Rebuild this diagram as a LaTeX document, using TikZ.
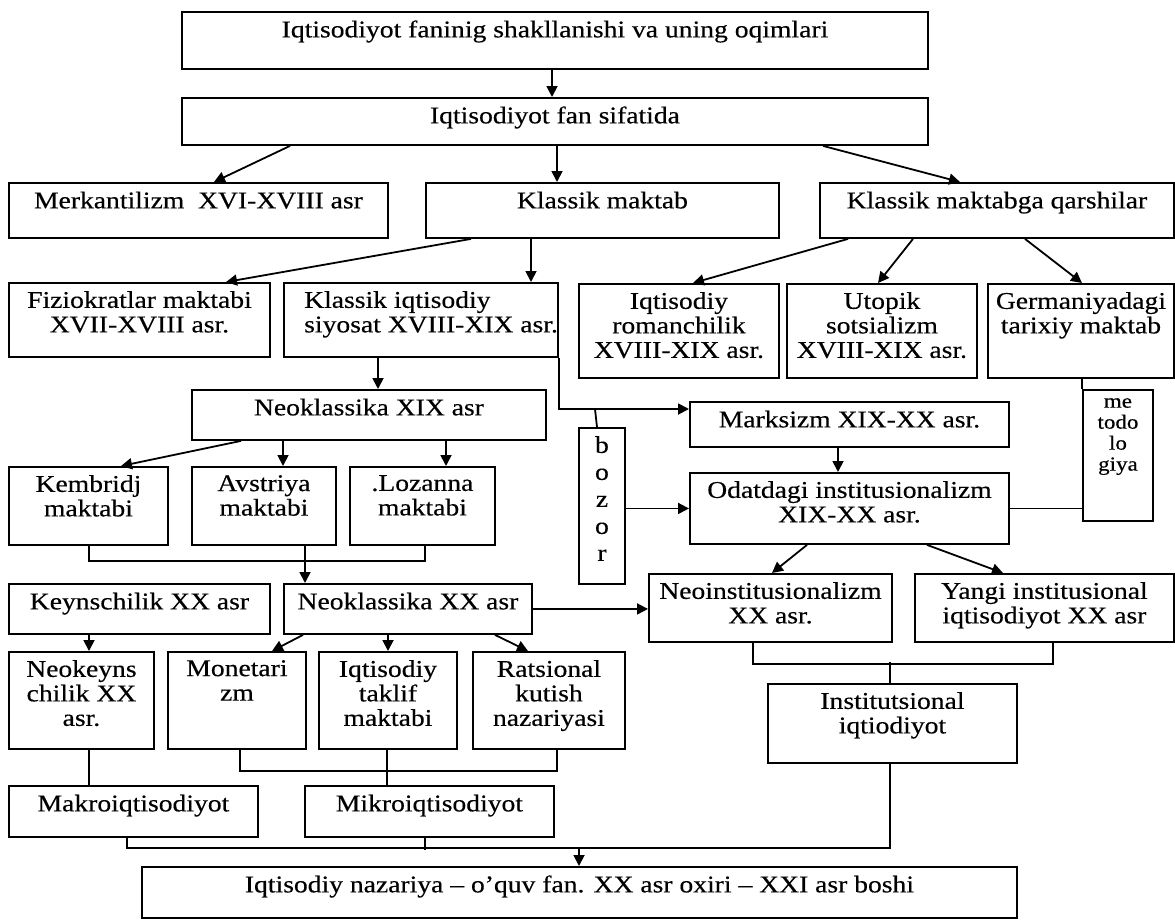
\documentclass[tikz,border=0pt]{standalone}
\usepackage{fontspec}
\setmainfont{Liberation Serif}[FakeStretch=1.15,FakeBold=0.4]
\usetikzlibrary{arrows.meta}
\newcommand\bxx[5]{\node[box, anchor=north west, minimum width={(#4-#2)*1pt}, minimum height={(#5-#3)*1pt}] (#1) at (#2,#3) {};}
\newcommand\tx[3][]{\node[txt,#1] at ([yshift=-9pt]#2.north) {#3};}
\tikzset{
 box/.style={draw, line width=1.9pt, inner sep=0pt},
 txt/.style={anchor=north, inner sep=0pt, align=center, font=\fontsize{24}{24.5}\selectfont, execute at begin node=\strut},
 arr/.style={line width=1.8pt, -{Triangle[length=11pt,width=11pt]}},
 ln/.style={line width=1.8pt},
}
\begin{document}
\begin{tikzpicture}[x=1pt,y=-1pt]
\path[fill=white] (0,0) rectangle (1175,919);
\useasboundingbox (0,0) rectangle (1175,919);
% boxes
\bxx{t1}{181}{11}{927}{68}
\bxx{t2}{181}{97}{927}{144}
\bxx{merk}{8}{182}{387}{237}
\bxx{klas}{425}{182}{778}{237}
\bxx{qars}{819}{182}{1173}{237}
\bxx{fizio}{8}{282}{269}{356}
\bxx{kisiy}{283}{282}{557}{356}
\bxx{roman}{578}{283}{778}{377}
\bxx{utop}{786}{283}{976}{377}
\bxx{germ}{987}{283}{1173}{377}
\bxx{neo19}{191}{389}{545}{439}
\bxx{kemb}{8}{466}{167}{544}
\bxx{avst}{191}{466}{335}{544}
\bxx{loz}{349}{466}{494}{544}
\bxx{marks}{689}{401}{1008}{446}
\bxx{bozor}{578}{427}{624}{583}
\bxx{metod}{1082}{389}{1152}{520}
\bxx{odat}{689}{472}{1008}{543}
\bxx{keyn}{8}{583}{269}{633}
\bxx{neo20}{283}{583}{531}{633}
\bxx{neoinst}{648}{573}{891}{641}
\bxx{yangi}{914}{573}{1173}{641}
\bxx{nkeyn}{8}{651}{153}{748}
\bxx{monet}{167}{651}{305}{748}
\bxx{taklif}{318}{651}{456}{748}
\bxx{rats}{472}{651}{624}{748}
\bxx{inst}{767}{683}{1016}{762}
\bxx{makro}{8}{785}{257}{836}
\bxx{mikro}{304}{785}{553}{836}
\bxx{final}{141}{866}{1016}{917}
% texts
\tx{t1}{Iqtisodiyot faninig shakllanishi va uning oqimlari}
\tx{t2}{Iqtisodiyot fan sifatida}
\tx{merk}{Merkantilizm~ XVI-XVIII asr}
\tx{klas}{Klassik maktab}
\tx{qars}{Klassik maktabga qarshilar}
\tx{fizio}{Fiziokratlar maktabi\\XVII-XVIII asr.}
\node[txt, anchor=north west, align=left] at ([xshift=21pt,yshift=-9pt]kisiy.north west) {Klassik iqtisodiy\\siyosat XVIII-XIX asr.};
\tx{roman}{Iqtisodiy\\romanchilik\\XVIII-XIX asr.}
\tx{utop}{Utopik\\sotsializm\\XVIII-XIX asr.}
\tx{germ}{Germaniyadagi\\tarixiy maktab}
\tx{neo19}{Neoklassika XIX asr}
\tx{kemb}{Kembridj\\maktabi}
\tx{avst}{Avstriya\\maktabi}
\tx{loz}{.Lozanna\\maktabi}
\tx{marks}{Marksizm XIX-XX asr.}
\tx[font=\fontsize{24}{27}\selectfont]{bozor}{b\\o\\z\\o\\r}
\tx[font=\fontsize{20}{21}\selectfont]{metod}{me\\todo\\lo\\giya}
\tx{odat}{Odatdagi institusionalizm\\XIX-XX asr.}
\tx{keyn}{Keynschilik XX asr}
\tx{neo20}{Neoklassika XX asr}
\tx{neoinst}{Neoinstitusionalizm\\XX asr.}
\tx{yangi}{Yangi institusional\\iqtisodiyot XX asr}
\tx{nkeyn}{Neokeyns\\chilik XX\\asr.}
\tx{monet}{Monetari\\zm}
\tx{taklif}{Iqtisodiy\\taklif\\maktabi}
\tx{rats}{Ratsional\\kutish\\nazariyasi}
\tx{inst}{Institutsional\\iqtiodiyot}
\tx{makro}{Makroiqtisodiyot}
\tx{mikro}{Mikroiqtisodiyot}
\tx{final}{Iqtisodiy nazariya – o’quv fan. XX asr oxiri – XXI asr boshi}
% connectors
\draw[arr] ([xshift=371pt]t1.south west) -- ([xshift=371pt]t2.north west);
\draw[arr] ([xshift=109pt]t2.south west) -- ([xshift=206pt]merk.north west);
\draw[arr] ([xshift=376pt]t2.south west) -- ([xshift=132pt]klas.north west);
\draw[arr] ([xshift=642pt]t2.south west) -- ([xshift=141pt]qars.north west);
\draw[arr] ([xshift=46pt]klas.south west) -- ([xshift=218pt]fizio.north west);
\draw[arr] ([xshift=106pt]klas.south west) -- ([xshift=248pt]kisiy.north west);
\draw[arr] ([xshift=29pt]qars.south west) -- ([xshift=115pt]roman.north west);
\draw[arr] ([xshift=94pt]qars.south west) -- ([xshift=92pt]utop.north west);
\draw[arr] ([xshift=206pt]qars.south west) -- ([xshift=95pt]germ.north west);
\draw[arr] ([xshift=95pt]kisiy.south west) -- ([xshift=187pt]neo19.north west);
\draw[arr] (kisiy.south east) |- ([yshift=-8pt]marks.north west);
\draw[ln] ([xshift=19pt]bozor.north west) -- ([xshift=17pt,yshift=18pt]bozor.north west);
\draw[arr] (bozor.east |- odat.west) -- (odat.west);
\draw[arr] ([xshift=149pt]marks.south west) -- ([xshift=149pt]odat.north west);
\draw[ln] ([xshift=95pt]germ.south west) -- (metod.north west);
\draw[ln] (odat.east) -- (odat.east -| metod.west);
\draw[arr] ([xshift=118pt]odat.south west) -- ([xshift=124pt]neoinst.north west);
\draw[arr] ([xshift=238pt]odat.south west) -- ([xshift=89pt]yangi.north west);
\draw[arr] ([xshift=50pt]neo19.south west) -- ([xshift=113pt]kemb.north west);
\draw[arr] ([xshift=92pt]neo19.south west) -- ([xshift=92pt]avst.north west);
\draw[arr] ([xshift=255pt]neo19.south west) -- ([xshift=97pt]loz.north west);
\draw[ln] ([xshift=81pt]kemb.south west) |- ([xshift=76pt,yshift=-15pt]loz.south west) -- ([xshift=76pt]loz.south west);
\draw[arr] ([xshift=114pt]avst.south west) -- ([xshift=22pt]neo20.north west);
\draw[arr] (neo20.east) -- (neo20.east -| neoinst.west);
\draw[arr] ([xshift=81pt]keyn.south west) -- ([xshift=81pt]nkeyn.north west);
\draw[arr] ([xshift=20pt]neo20.south west) -- ([xshift=105pt]monet.north west);
\draw[arr] ([xshift=105pt]neo20.south west) -- ([xshift=70pt]taklif.north west);
\draw[arr] ([xshift=212pt]neo20.south west) -- ([xshift=56pt]rats.north west);
\draw[ln] ([xshift=73pt]monet.south west) |- ([xshift=85pt,yshift=-21pt]rats.south west) -- ([xshift=85pt]rats.south west);
\draw[ln] ([xshift=69pt]taklif.south west) -- ([xshift=83pt]mikro.north west);
\draw[ln] ([xshift=81pt]nkeyn.south west) -- ([xshift=81pt]makro.north west);
\draw[ln] ([xshift=105pt]neoinst.south west) |- ([xshift=139pt,yshift=-21pt]yangi.south west) -- ([xshift=139pt]yangi.south west);
\draw[ln] ([xshift=123pt]inst.north west) -- ([xshift=123pt,yshift=21pt]inst.north west);
\draw[arr] ([xshift=123pt]inst.south west) |- ([xshift=438pt,yshift=18pt]final.north west) -- ([xshift=438pt]final.north west);
\draw[ln] ([xshift=119pt]makro.south west) |- ([xshift=438pt,yshift=18pt]final.north west);
\draw[ln] ([xshift=121pt]mikro.south west) -- ([xshift=121pt,yshift=-12pt]mikro.south west);
\end{tikzpicture}
\end{document}
